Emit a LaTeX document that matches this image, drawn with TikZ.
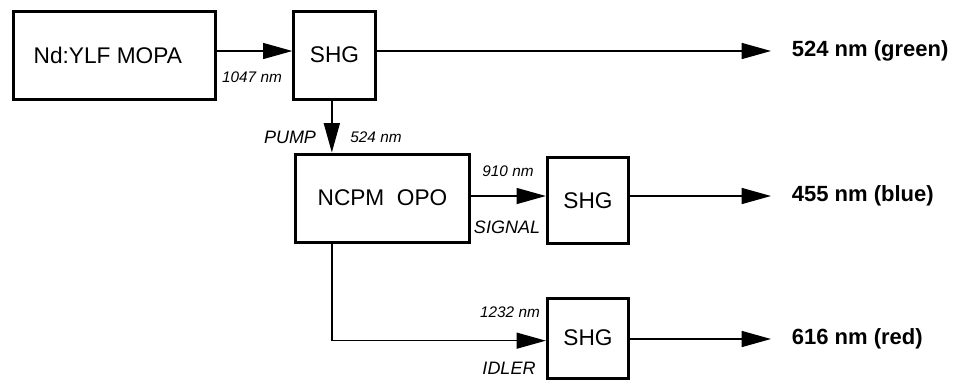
\documentclass[tikz,border=0pt]{standalone}
\usepackage{fontspec}
\setmainfont{Liberation Sans}
\usetikzlibrary{arrows.meta,positioning}

\begin{document}
\begin{tikzpicture}[x=0.75pt,y=-0.75pt,
          box/.style={draw,line width=2.25pt,font=\fontsize{17}{20}\selectfont},
          beam/.style={line width=1.1pt,-{Triangle[length=22pt,width=12pt]}},
          wl/.style={font=\fontsize{11.5}{13}\selectfont\itshape},
          tag/.style={font=\fontsize{13.5}{16}\selectfont\itshape},
          outtxt/.style={inner sep=0pt,font=\fontsize{16.5}{19}\selectfont\bfseries}]
          \useasboundingbox (0,0) rectangle (956,383);
          \node[box,minimum width=152pt,minimum height=66pt] (MOPA) at (114.5,55) {Nd:YLF MOPA\hspace*{10pt}};
          \node[box,minimum width=61pt,minimum height=66pt] (SHG1) at (334.5,55) {SHG};
          \node[box,minimum width=131pt,minimum height=66pt] (OPO) at (382.5,198) {NCPM~~OPO};
          \node[box,minimum width=61pt,minimum height=65pt] (SHG2) at (588,200.5) {SHG};
          \node[box,minimum width=61pt,minimum height=60pt] (SHG3) at (588,338) {SHG};
          \coordinate (P) at ([xshift=-2pt]SHG1.south);
          \coordinate (G) at (771,51);
          \coordinate (B) at (771,196);
          \coordinate (R) at (771,339);
          \draw[beam] ([yshift=3pt]MOPA.east) -- ([yshift=3pt]SHG1.west);
          \draw[beam] ([yshift=3pt]SHG1.east) -- (G);
          \draw[beam] (P) -- (P |- OPO.north);
          \draw[beam] ([yshift=1.5pt]OPO.east) -- ([yshift=1.5pt]OPO.east -| SHG2.west);
          \draw[beam] (SHG2.east |- B) -- (B);
          \draw[beam] (P |- OPO.south) |- ([yshift=-2pt]SHG3.west);
          \draw[beam] (SHG3.east |- R) -- (R);
          \node[outtxt,right=15.5pt of G] (GREEN) {524 nm (green)};
          \node[outtxt,right=15.5pt of B] (BLUE) {455 nm (blue)};
          \node[outtxt,right=15.5pt of R] (RED) {616 nm (red)};
          \node[wl] (L1047) at (252,77) {1047 nm};
          \node[tag] (PUMP) at (290,137) {PUMP};
          \node[wl] (L524) at (376,137) {524 nm};
          \node[wl] (L910) at (508,171) {910 nm};
          \node[tag] (SIGNAL) at (507,227) {SIGNAL};
          \node[wl] (L1232) at (510,312) {1232 nm};
          \node[tag] (IDLER) at (509,368) {IDLER};
        \end{tikzpicture}
\end{document}
